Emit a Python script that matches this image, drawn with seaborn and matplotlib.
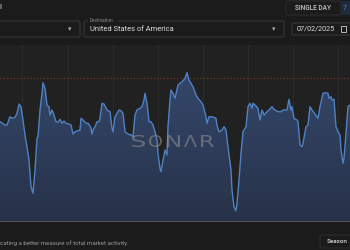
import numpy as np
import pandas as pd
import seaborn as sns
import matplotlib
matplotlib.use("Agg")
import matplotlib.pyplot as plt
from matplotlib.patches import FancyBboxPatch, Rectangle, PathPatch
from matplotlib.colors import LinearSegmentedColormap
from matplotlib.textpath import TextPath
from matplotlib.font_manager import FontProperties
from matplotlib.transforms import Affine2D, IdentityTransform

# ---------------- data ----------------
day = [0, 5, 7, 10, 12, 15, 17, 19, 21, 23, 25, 27, 29, 31, 33, 35, 37, 38, 40, 42,
       43, 45, 47, 49, 50, 52, 54, 56, 58, 60, 62, 64, 66, 69, 71, 73, 75, 78, 80, 81,
       83, 86, 88, 90, 91, 92, 93, 95, 97, 99, 100, 102, 104, 107, 110, 112, 113, 115,
       117, 119, 121, 123, 125, 128, 131, 133, 135, 137, 140, 142, 144, 145, 147, 149,
       151, 153, 155, 157, 158, 160, 161, 163, 165, 167, 168, 170, 171, 173, 175,
       178, 182, 185, 187, 189, 191, 193, 196, 198, 201, 203, 206, 207, 209, 212, 216,
       217, 219, 222, 224, 226, 228, 231, 232, 234, 236, 237, 239, 241, 243, 246, 248,
       250, 252, 253, 256, 258, 260, 262, 264, 267, 269, 272, 274, 278, 281, 283, 287,
       289, 291, 292, 294, 297, 298, 300, 302, 303, 306, 308, 310, 312, 315, 318, 320,
       323, 325, 328, 329, 331, 332, 334, 336, 338, 340, 341, 343, 344, 346, 348, 350]
index_value = [100.3, 97, 97, 105.3, 103.7, 104.7, 108.7, 118, 115.3, 102, 87, 75.3, 62,
               35.3, 28.7, 52, 83.7, 85.3, 112, 128.7, 139.3, 133.7, 117, 115.3, 107, 112,
               107, 100.3, 99.7, 102.7, 98.7, 101, 98.7, 98, 97, 88, 90.3, 91.3, 92, 103.7,
               102, 98.7, 98.7, 96, 93.7, 88, 92, 95.3, 100.3, 100.3, 103.7, 118.7, 118,
               112, 110.3, 93.7, 90.3, 105.3, 108.7, 112, 111.3, 108.7, 90.3, 88, 87, 85.3,
               107, 112, 113.7, 115.3, 122, 128.7, 118.7, 100.3, 100.3, 97, 90.3, 82, 68.7,
               53.7, 50.3, 62, 72, 67, 95.3, 122, 132, 128.7, 123.7,
               137, 140.3, 143.7, 149.3, 142, 138.7, 135.3, 127, 123.7, 120.3, 117, 105.3,
               98.7, 105.3, 105.3, 103.7, 97, 90.3, 92, 95.3, 92, 75.3, 52, 32, 15.3, 11.3,
               18.7, 42, 68.7, 90.3, 95.3, 115.3, 118.7, 113.7, 118.7, 116, 113.7, 102,
               112, 107, 110.3, 112, 115.3, 112.7, 110.3, 110.3, 112, 112, 122.7, 112,
               115.3, 103.7, 102, 100.3, 77, 75.3, 78.7, 95.3, 97, 115.3, 112, 108, 103.7,
               115.3, 128.7, 129.3, 128.7, 123.7, 125.3, 122, 122.7, 95.3, 90.3, 87, 72,
               58.7, 63.7, 88.7, 115.3, 117]
reference_level = 144
month_ticks = [22, 68, 113, 158, 203, 248, 293, 338]
watermark = "SONΛR"

df = pd.DataFrame({"day": day, "value": index_value})

# ---------------- style ----------------
sns.set_theme(style="dark")
plt.rcParams["font.family"] = ["Roboto", "DejaVu Sans"]

W, H = 350, 250
fig = plt.figure(figsize=(3.5, 2.5), dpi=100, facecolor="#1b1b1b")

def fx(px):
    return px / W

def fy(py):
    return 1 - py / H

# chart axes: pixel rows 45..222
ax = fig.add_axes([0, fy(222), 1, (222 - 45) / H])
ax.set_facecolor("#212121")

for t in month_ticks:
    ax.axvline(t, color="#2b2b2b", lw=0.8, zorder=0)

fill = ax.fill_between(df["day"], df["value"], 0, color="#2c3a55", lw=0, zorder=1)
grad = np.linspace(0, 1, 256).reshape(-1, 1)
cmap = LinearSegmentedColormap.from_list("g", ["#283249", "#34476a"])
im = ax.imshow(grad, cmap=cmap, aspect="auto", origin="lower",
               extent=[0, 350, 0, 150], zorder=1.5)
im.set_clip_path(fill.get_paths()[0], transform=ax.transData)

sns.lineplot(data=df, x="day", y="value", ax=ax, color="#4f82c4", lw=1.0,
             zorder=3)

ax.axhline(reference_level, color="#8a3b2c", lw=0.8, ls=(0, (1, 2)), zorder=2)
ax.axhline(0, color="#5a5a5a", lw=2.0, zorder=4)

ax.set_xlim(0, 350)
ax.set_ylim(0, 177)
ax.set_xlabel("")
ax.set_ylabel("")
ax.set_xticks([])
ax.set_yticks([])
for s in ax.spines.values():
    s.set_visible(False)

# watermark: wide thin letters, drawn as text paths in pixel space
prop = FontProperties(family="DejaVu Sans", weight="normal")
centers = [138.5, 155.5, 173.5, 190.5, 207.5]
for ch, cx in zip(watermark, centers):
    tp = TextPath((0, 0), ch, size=10, prop=prop)
    bb = tp.get_extents()
    sx = 13.0 / max(bb.width, 1e-6)
    sy = 12.0 / max(bb.height, 1e-6)
    tr = (Affine2D().translate(-(bb.x0 + bb.width / 2), -bb.y0)
          .scale(sx, sy).translate(cx, H - 147))
    patch = PathPatch(tr.transform_path(tp), transform=IdentityTransform(),
                      fc="#8e8e8e", ec="none", alpha=0.6, zorder=5)
    fig.patches.append(patch)

# ---------------- header controls ----------------
def box(x0, y0, x1, y1, ec="#3a3a3a", fc="none", r=2):
    p = FancyBboxPatch((fx(x0), fy(y1)), fx(x1) - fx(x0), fy(y0) - fy(y1),
                       boxstyle=f"round,pad=0,rounding_size={r/W}",
                       transform=fig.transFigure, ec=ec, fc=fc, lw=0.7)
    fig.patches.append(p)

fig.text(fx(-1), fy(7), "l", color="#dddddd", fontsize=6, va="center")

box(-5, 21, 80, 37)
fig.text(fx(70), fy(29), "▾", color="#aaaaaa", fontsize=5, ha="center", va="center",
         family=["DejaVu Sans"])

box(84, 21, 284, 37)
fig.patches.append(Rectangle((fx(88), fy(23)), fx(30), fy(19) - fy(23),
                             transform=fig.transFigure, fc="#1b1b1b", ec="none"))
fig.text(fx(90), fy(21), "Destination", color="#8a8a8a", fontsize=3.3, va="center")
fig.text(fx(90), fy(29.5), "United States of America", color="#dddddd", fontsize=5.4,
         va="center")
fig.text(fx(274), fy(29), "▾", color="#aaaaaa", fontsize=5, ha="center", va="center",
         family=["DejaVu Sans"])

box(292, 23, 352, 35)
fig.text(fx(297), fy(29.3), "07/02/2025", color="#dddddd", fontsize=5.2, va="center")
fig.patches.append(Rectangle((fx(341), fy(32)), fx(5), fy(26) - fy(32),
                             transform=fig.transFigure, fc="none", ec="#cccccc", lw=0.6))

box(286, 1, 341, 15, ec="#2e2e2e")
fig.text(fx(313), fy(8), "SINGLE DAY", color="#cccccc", fontsize=4.7, ha="center",
         va="center", fontweight="medium")
fig.patches.append(Rectangle((fx(341), fy(15)), fx(12), fy(1) - fy(15),
                             transform=fig.transFigure, fc="#1f2b3c", ec="none"))
fig.text(fx(343), fy(8), "7", color="#4a86d8", fontsize=5, va="center")

# ---------------- footer ----------------
fig.text(fx(0), fy(243.5), "cating a better measure of total market activity.",
         color="#9a9a9a", fontsize=4.4, va="center")
box(320, 235, 354, 248, ec="#2e2e2e")
fig.text(fx(327), fy(241.5), "Season", color="#bbbbbb", fontsize=4.5, va="center",
         fontweight="bold")

fig.savefig("out.png", dpi=100, facecolor=fig.get_facecolor())
